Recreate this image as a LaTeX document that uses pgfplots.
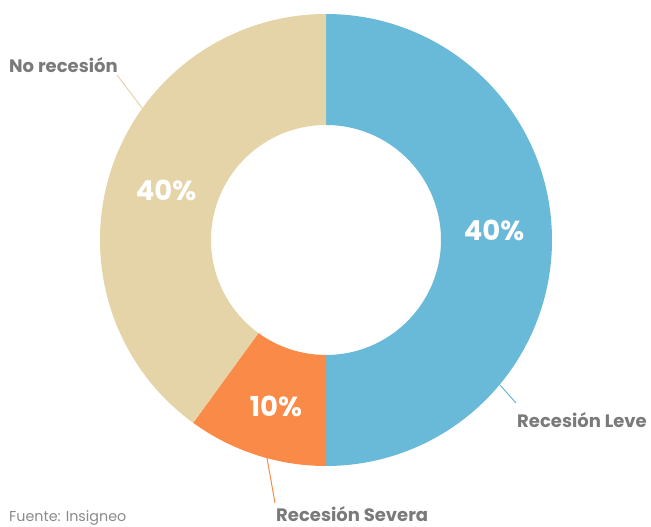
\documentclass[border=0pt]{standalone}
\usepackage{fontspec}
\setmainfont{Poppins}
\usepackage{pgfplots}
\pgfplotsset{compat=1.18}
\definecolor{cblue}{HTML}{69B9D8}
\definecolor{corange}{HTML}{FA8A48}
\definecolor{cbeige}{HTML}{E6D4A9}
\definecolor{cgray}{HTML}{7A7A7A}
\definecolor{clight}{HTML}{8A8A8A}
% slice values (share of the circle, as drawn)
\def\vLeve{50}
\def\vSevera{10}
\def\vNo{40}
\begin{document}
\begin{tikzpicture}
\begin{axis}[
  at={(0,0)}, anchor=south west,
  width=651pt, height=527pt, scale only axis,
  xmin=0, xmax=651, ymin=0, ymax=527,
  hide axis, clip=false]
\pgfmathsetmacro{\aA}{90}
\pgfmathsetmacro{\aB}{90-3.6*\vLeve}
\pgfmathsetmacro{\aC}{\aB-3.6*\vSevera}
\pgfmathsetmacro{\aD}{\aC-3.6*\vNo}
\def\R{226pt}
\def\r{115pt}
\fill[cblue] ([shift={(\aA:\R)}]axis cs:326,287) arc[start angle=\aA,end angle=\aB,radius=\R]
   -- ([shift={(\aB:\r)}]axis cs:326,287) arc[start angle=\aB,end angle=\aA,radius=\r] -- cycle;
\fill[corange] ([shift={(\aB:\R)}]axis cs:326,287) arc[start angle=\aB,end angle=\aC,radius=\R]
   -- ([shift={(\aC:\r)}]axis cs:326,287) arc[start angle=\aC,end angle=\aB,radius=\r] -- cycle;
\fill[cbeige] ([shift={(\aC:\R)}]axis cs:326,287) arc[start angle=\aC,end angle=\aD,radius=\R]
   -- ([shift={(\aD:\r)}]axis cs:326,287) arc[start angle=\aD,end angle=\aC,radius=\r] -- cycle;
% leader lines
\draw[cbeige, line width=1pt] (axis cs:117,452) -- (axis cs:142,419);
\draw[cblue, line width=1pt] (axis cs:500,142) -- (axis cs:516,124);
\draw[corange, line width=1pt] (axis cs:267,69) -- (axis cs:275,24);
% percentages
\node[white, font=\fontsize{27.5}{32}\selectfont\bfseries] at (axis cs:494,297) {40\%};
\node[white, font=\fontsize{27.5}{32}\selectfont\bfseries] at (axis cs:276,121) {10\%};
\node[white, font=\fontsize{27.5}{32}\selectfont\bfseries] at (axis cs:166,337) {40\%};
% labels
\node[cgray, font=\fontsize{18}{22}\selectfont\bfseries, anchor=west, inner sep=0pt] at (axis cs:9,462) {No recesión};
\node[cgray, font=\fontsize{18}{22}\selectfont\bfseries, anchor=west, inner sep=0pt] at (axis cs:517,107) {Recesión Leve};
\node[cgray, font=\fontsize{18}{22}\selectfont\bfseries, anchor=base west, inner sep=0pt] at (axis cs:276,5) {Recesión Severa};
\node[clight, font=\fontsize{14.3}{17}\selectfont, anchor=base west, inner sep=0pt] at (axis cs:9,5) {Fuente: Insigneo};
\end{axis}
\useasboundingbox (0,0) rectangle (651pt,527pt);
\end{tikzpicture}
\end{document}
